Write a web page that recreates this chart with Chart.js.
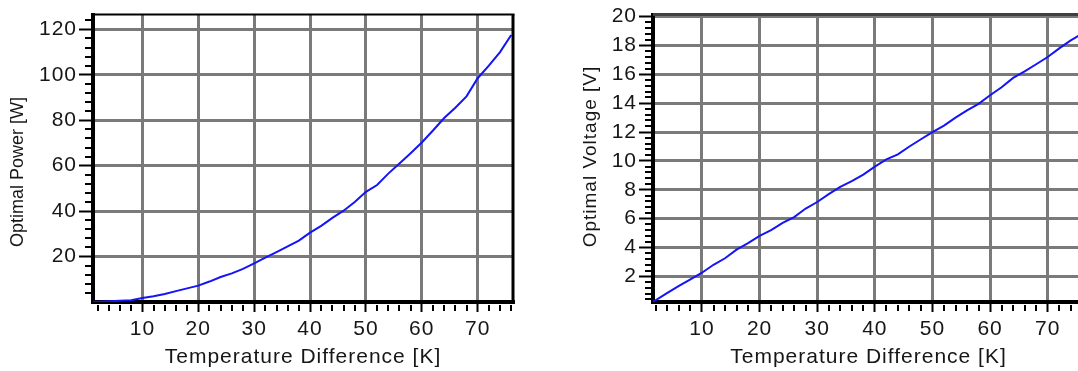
<!DOCTYPE html>
<html><head><meta charset="utf-8">
<script src="https://cdn.jsdelivr.net/npm/chart.js@4/dist/chart.umd.min.js"></script>
<style>
html,body{margin:0;padding:0;background:#fff;overflow:hidden;width:1078px;height:371px;}
canvas{position:absolute;top:0;}
#c1{left:0;}
#c2{left:560px;}
</style></head><body>
<canvas id="c1" width="540" height="371"></canvas>
<canvas id="c2" width="540" height="371"></canvas>
<script>
// ---- data ----
const powerTemps  = [1.2, 2, 4, 6, 8, 10, 12, 14, 16, 18, 20, 22, 24, 26, 28, 30, 32, 34, 36, 38, 40, 42, 44, 46, 48, 50, 52, 54, 56, 58, 60, 62, 64, 66, 68, 70, 72, 74, 76];
const powerValues = [0.1, 0.1, 0.3, 0.5, 0.8, 1.8, 2.5, 3.5, 4.8, 6.0, 7.2, 9.0, 11.0, 12.6, 14.6, 17.0, 19.5, 22.0, 24.5, 27.0, 30.5, 33.5, 37.0, 40.2, 44.0, 48.5, 51.5, 56.5, 61.0, 65.5, 70.2, 75.5, 81.0, 85.5, 90.5, 98.5, 104.0, 110.0, 117.5];
const voltageTemps  = [1.5, 4, 6, 8, 10, 12, 14, 16, 18, 20, 22, 24, 26, 28, 30, 32, 34, 36, 38, 40, 42, 44, 46, 48, 50, 52, 54, 56, 58, 60, 62, 64, 66, 68, 70, 72, 74, 76.3];
const voltageValues = [0.23, 0.85, 1.33, 1.78, 2.25, 2.8, 3.25, 3.85, 4.3, 4.8, 5.2, 5.7, 6.1, 6.7, 7.15, 7.7, 8.2, 8.6, 9.05, 9.6, 10.1, 10.45, 11.0, 11.5, 12.0, 12.45, 13.0, 13.5, 13.95, 14.55, 15.1, 15.75, 16.2, 16.7, 17.2, 17.8, 18.35, 18.9];
const tempTicks    = [10, 20, 30, 40, 50, 60, 70];
const powerTicks   = [20, 40, 60, 80, 100, 120];
const voltageTicks = [2, 4, 6, 8, 10, 12, 14, 16, 18, 20];

const FONT = "'Liberation Sans', Arial, Helvetica, sans-serif";
const TEXT = '#161616';

const spacingPlugin = {
  id: 'spacing',
  beforeUpdate(c) { c.ctx.letterSpacing = '1px'; },
  beforeDraw(c) { c.ctx.letterSpacing = '1px'; }
};

function framePlugin(o) {
  return {
    id: 'frame',
    afterDraw(chart) {
      const { ctx, chartArea: a, scales: { x, y } } = chart;
      ctx.save();
      // minor ticks
      ctx.strokeStyle = '#000';
      ctx.lineWidth = 2;
      ctx.beginPath();
      for (let i = Math.ceil(y.min / o.yMinor - 1e-9); i * o.yMinor <= y.max + 1e-9; i++) {
        if (i % 5 === 0) continue;
        const py = Math.round(y.getPixelForValue(i * o.yMinor));
        ctx.moveTo(a.left - 8, py); ctx.lineTo(a.left - 2, py);
      }
      for (let i = Math.ceil(x.min / o.xMinor - 1e-9); i * o.xMinor <= x.max + 1e-9; i++) {
        if (i % 5 === 0) continue;
        const px = Math.round(x.getPixelForValue(i * o.xMinor));
        ctx.moveTo(px, a.bottom + 3); ctx.lineTo(px, a.bottom + 9);
      }
      ctx.stroke();
      // top & right frame
      ctx.strokeStyle = o.topColor;
      ctx.lineWidth = o.topWidth;
      ctx.beginPath();
      ctx.moveTo(a.left, a.top); ctx.lineTo(a.right + 1.5, a.top);
      ctx.stroke();
      ctx.strokeStyle = '#000';
      ctx.lineWidth = 3;
      ctx.beginPath();
      ctx.moveTo(a.right, a.top); ctx.lineTo(a.right, a.bottom);
      ctx.stroke();
      // y axis title
      ctx.letterSpacing = o.titleSpacing;
      ctx.fillStyle = TEXT;
      ctx.font = o.titleSize + 'px ' + FONT;
      ctx.textAlign = 'center';
      ctx.textBaseline = 'middle';
      ctx.translate(o.titleX, o.titleY);
      ctx.rotate(-Math.PI / 2);
      ctx.fillText(o.title, 0, 0);
      ctx.restore();
    }
  };
}

function makeChart(id, temps, values, yTicks, o) {
  const pts = temps.map((t, i) => ({ x: t, y: values[i] }));
  return new Chart(document.getElementById(id), {
    type: 'line',
    data: { datasets: [{ data: pts, borderColor: '#1414f5', borderWidth: 2, pointRadius: 0, tension: 0, fill: false }] },
    options: {
      responsive: false,
      animation: false,
      devicePixelRatio: 1,
      layout: { padding: { left: 0, right: o.padRight, top: o.padTop, bottom: 0 } },
      plugins: { legend: { display: false }, tooltip: { enabled: false } },
      scales: {
        x: {
          type: 'linear',
          min: o.xMin, max: o.xMax,
          afterBuildTicks: s => { s.ticks = tempTicks.map(v => ({ value: v })); },
          afterFit: s => { s.height = 69; },
          ticks: { font: { size: 21, family: FONT }, color: TEXT, padding: 5, maxRotation: 0, autoSkip: false },
          grid: { color: '#7a7a7a', lineWidth: 3, tickLength: 10, tickColor: '#000', tickWidth: 2 },
          border: { display: true, color: '#000', width: 4 },
          title: { display: true, text: 'Temperature Difference [K]', font: { size: 21, family: FONT }, color: TEXT, padding: { top: 0, bottom: 1 } }
        },
        y: {
          type: 'linear',
          min: o.yMin, max: o.yMax,
          afterBuildTicks: s => { s.ticks = yTicks.map(v => ({ value: v })); },
          afterFit: s => { s.width = o.yWidth; },
          ticks: { font: { size: 21, family: FONT }, color: TEXT, padding: 2, autoSkip: false },
          grid: { color: '#7a7a7a', lineWidth: 3, tickLength: 14, tickColor: '#000', tickWidth: 2 },
          border: { display: true, color: '#000', width: 4 }
        }
      }
    },
    plugins: [spacingPlugin, framePlugin(o)]
  });
}

makeChart('c1', powerTemps, powerValues, powerTicks, {
  xMin: 1.16, xMax: 76.32, yMin: 0, yMax: 126.5, yWidth: 93, padRight: 27, padTop: 11,
  yMinor: 4, xMinor: 2, topColor: '#000', topWidth: 2,
  title: 'Optimal Power [W]', titleSize: 18, titleSpacing: '0px', titleX: 18, titleY: 172
});
makeChart('c2', voltageTemps, voltageValues, voltageTicks, {
  xMin: 1.5, xMax: 76.3, yMin: 0.22, yMax: 20.14, yWidth: 93, padRight: 16, padTop: 12,
  yMinor: 0.4, xMinor: 2, topColor: '#404040', topWidth: 3,
  title: 'Optimal Voltage [V]', titleSize: 19, titleSpacing: '1px', titleX: 30.7, titleY: 156.5
});
</script>
</body></html>
